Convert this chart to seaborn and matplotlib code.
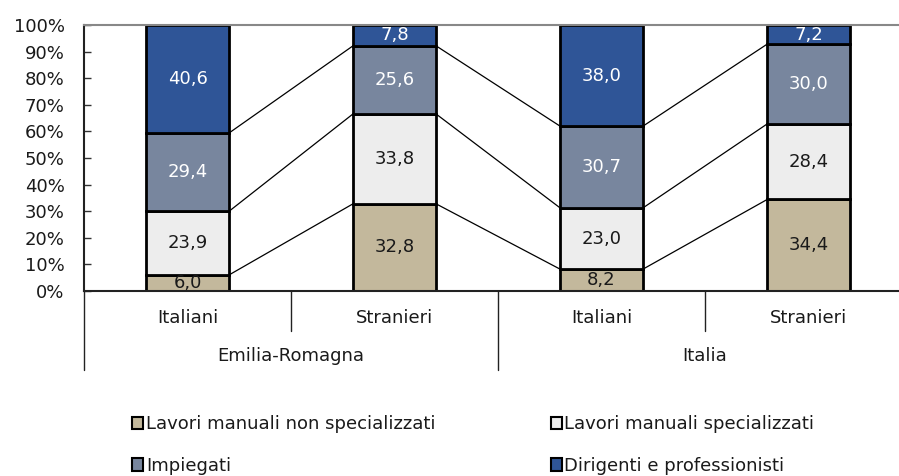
import numpy as np
import pandas as pd
import matplotlib
matplotlib.use('Agg')
import matplotlib.pyplot as plt
import seaborn as sns
from matplotlib.patches import Patch

sns.set_style('white')
plt.rcParams['font.family'] = ['DejaVu Sans']
plt.rcParams['text.color'] = '#1a1a1a'
plt.rcParams['ytick.labelcolor'] = '#1a1a1a'

# data
groups = ['Emilia-Romagna', 'Italia']
subgroups = ['Italiani', 'Stranieri']
bar_keys = ['ER-Italiani', 'ER-Stranieri', 'IT-Italiani', 'IT-Stranieri']
series = ['Lavori manuali non specializzati', 'Lavori manuali specializzati',
          'Impiegati', 'Dirigenti e professionisti']
manuali_non_spec = [6.0, 32.8, 8.2, 34.4]
manuali_spec = [23.9, 33.8, 23.0, 28.4]
impiegati = [29.4, 25.6, 30.7, 30.0]
dirigenti = [40.6, 7.8, 38.0, 7.2]

colors = ['#C3B89C', '#EDEDED', '#78869E', '#2F5597']
text_colors = ['#1a1a1a', '#1a1a1a', 'white', 'white']

values = np.array([manuali_non_spec, manuali_spec, impiegati, dirigenti])
# 100% stacked
pct = values / values.sum(axis=0) * 100

fig = plt.figure(figsize=(8.99, 4.76), dpi=100)
ax = fig.add_axes([84/899, 1-291/476, 815/899, 266/476])

bottom = np.zeros(4)
for i, name in enumerate(series):
    df = pd.DataFrame({'bar': bar_keys, 'val': pct[i]})
    sns.barplot(data=df, x='bar', y='val', color=colors[i], bottom=bottom,
                width=0.4, edgecolor='black', linewidth=2, ax=ax,
                saturation=1, errorbar=None, order=bar_keys)
    for j in range(4):
        yc = bottom[j] + pct[i][j] / 2
        ax.text(j, yc, f'{values[i][j]:.1f}'.replace('.', ','), ha='center', va='center',
                fontsize=13, color=text_colors[i], clip_on=True)
    bottom = bottom + pct[i]

# series lines between bars
cum = np.cumsum(pct, axis=0)
for lvl in range(3):
    for j in range(3):
        ax.plot([j + 0.2, j + 1 - 0.2], [cum[lvl][j], cum[lvl][j + 1]],
                color='black', lw=0.9, zorder=0)

ax.set_xlim(-0.5, 3.437)
ax.set_ylim(0, 100)
ax.set_yticks(np.arange(0, 101, 10))
ax.set_yticklabels([f'{v}%' for v in range(0, 101, 10)], fontsize=13)
ax.tick_params(axis='y', direction='in', length=5, width=1, color='#333333', pad=14, left=True)
ax.set_xticks([])
ax.set_xlabel('')
ax.set_ylabel('')

for s in ['left', 'bottom']:
    ax.spines[s].set_color('#222222')
    ax.spines[s].set_linewidth(1.5)
ax.spines['top'].set_color('#888888')
ax.spines['top'].set_linewidth(1.5)
ax.spines['right'].set_visible(False)

# two-level category axis
tr = ax.get_xaxis_transform()
for x in [0.5, 2.5]:
    ax.plot([x, x], [0, -0.15], transform=tr, color='#222222', lw=1, clip_on=False)
for x in [-0.5, 1.5]:
    ax.plot([x, x], [0, -0.297], transform=tr, color='#222222', lw=1, clip_on=False)
for j in range(4):
    ax.text(j, -0.102, subgroups[j % 2], transform=tr, ha='center', va='center', fontsize=13)
for g, x in zip(groups, [0.5, 2.5]):
    ax.text(x, -0.244, g, transform=tr, ha='center', va='center', fontsize=13)

# legend in row-major order (two columns)
handles = [Patch(facecolor=c, edgecolor='black', linewidth=1.5) for c in colors]
order = [0, 2, 1, 3]
fig.legend([handles[k] for k in order], [series[k] for k in order],
           loc='upper left', bbox_to_anchor=(125/899, 1-408/476),
           ncol=2, frameon=False, fontsize=13, handlelength=0.6, handleheight=0.7,
           handletextpad=0.15, columnspacing=6.4, labelspacing=1.3, borderaxespad=0)

fig.savefig('out.png', dpi=100)
